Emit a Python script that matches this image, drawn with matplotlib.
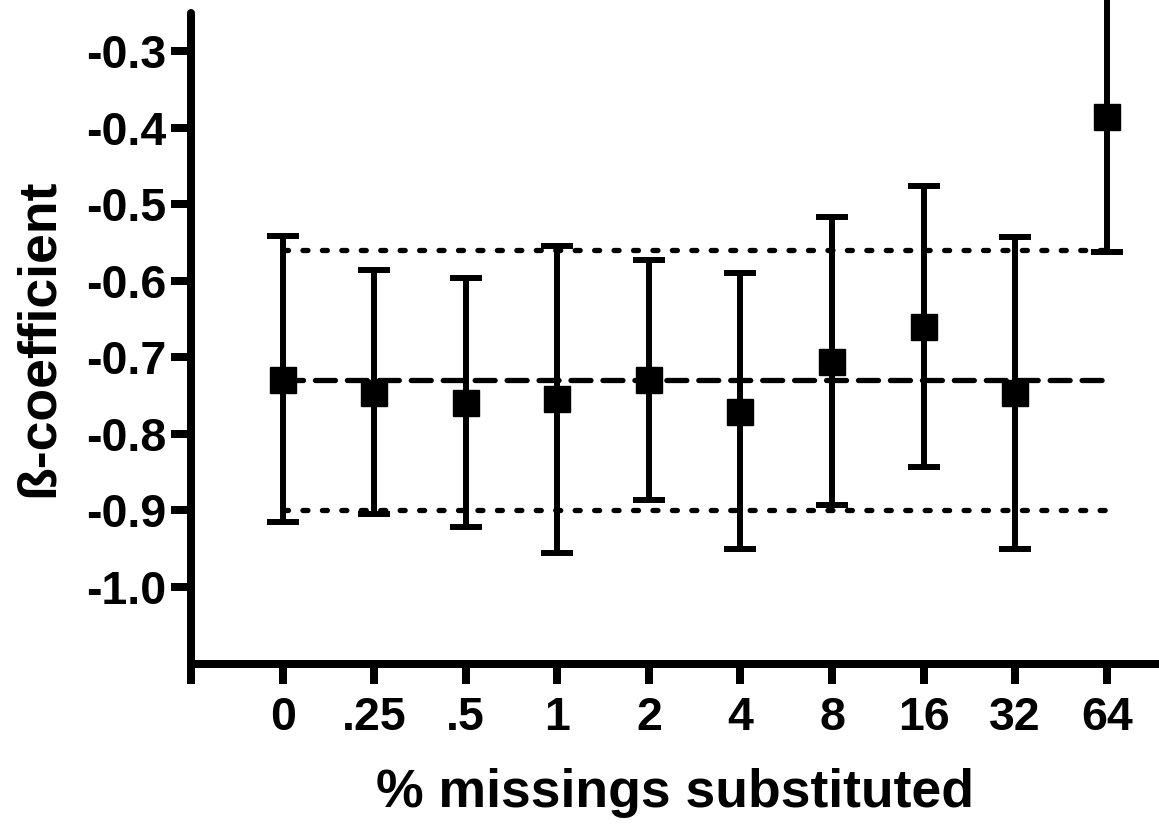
import matplotlib.pyplot as plt
import numpy as np

plt.rcParams['font.family'] = ['Liberation Sans', 'DejaVu Sans']
plt.rcParams['font.weight'] = 'bold'
plt.rcParams['lines.scale_dashes'] = False

# data
categories = ['0', '.25', '.5', '1', '2', '4', '8', '16', '32', '64']
beta = [-0.729, -0.746, -0.760, -0.755, -0.730, -0.771, -0.706, -0.661, -0.747, -0.386]
upper = [-0.541, -0.586, -0.597, -0.554, -0.573, -0.590, -0.517, -0.476, -0.543, -0.210]
lower = [-0.915, -0.904, -0.921, -0.955, -0.886, -0.950, -0.893, -0.843, -0.950, -0.562]
ref_mean = -0.73
ref_band = [-0.56, -0.90]
yticks = [-0.3, -0.4, -0.5, -0.6, -0.7, -0.8, -0.9, -1.0]

x = np.arange(len(categories))
beta = np.array(beta)
err = np.vstack([beta - np.array(lower), np.array(upper) - beta])

fig = plt.figure(figsize=(11.59, 8.24), dpi=100)
ax = fig.add_axes([0.1648, 0.1947, 0.8352, 0.7898])

# reference lines
ax.plot([x[0], x[-1]], [ref_mean, ref_mean], color='black', lw=3.8,
        dashes=(14.4, 8.6), dash_capstyle='round')
for v in ref_band:
    ax.plot([x[0], x[-1]], [v, v], color='black', lw=3.8,
            dashes=(3.6, 10.4), dash_capstyle='round')

eb = ax.errorbar(x, beta, yerr=err, fmt='s', color='black', markersize=19.4,
                 elinewidth=4.3, capsize=11.5, capthick=4.3, clip_on=False)
for c in eb[1]:
    c.set_solid_capstyle('round')
    c.set_clip_on(False)
for c in eb[2]:
    c.set_clip_on(False)

ax.set_xlim(-1, 9.57)
ax.set_ylim(-1.1, -0.25)

ax.set_xticks([-1] + list(x))
ax.set_xticklabels([''] + categories)
ax.set_yticks(yticks)
ax.set_yticklabels(['%.1f' % t for t in yticks])

for s in ['top', 'right']:
    ax.spines[s].set_visible(False)
for s in ['left', 'bottom']:
    ax.spines[s].set_linewidth(5.76)
    ax.spines[s].set_capstyle('round')

ax.tick_params(axis='both', direction='out', length=14.4, width=5.76,
               labelsize=33.5)
ax.tick_params(axis='y', pad=3.6)
ax.tick_params(axis='x', pad=9)
for t in ax.get_xticklabels() + ax.get_yticklabels():
    t.set_fontweight('bold')

ax.set_xlabel('% missings substituted', fontsize=38.5, fontweight='bold', labelpad=20)
ax.set_ylabel('ß-coefficient', fontsize=38.5, fontweight='bold', labelpad=16)

fig.savefig('out.png', dpi=100)
